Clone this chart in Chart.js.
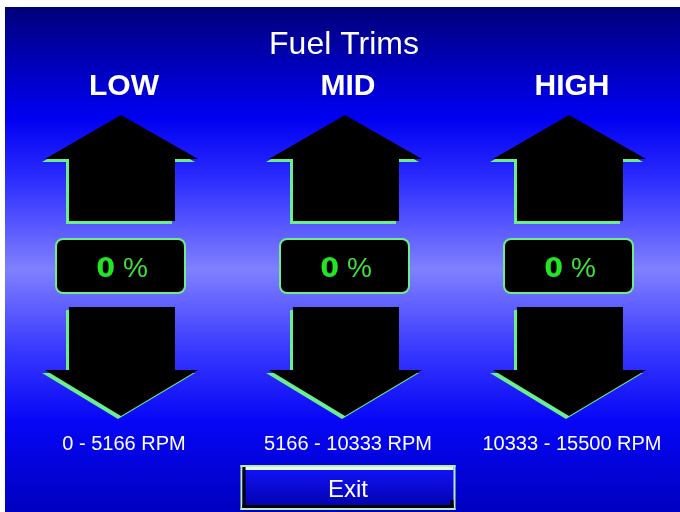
<!DOCTYPE html>
<html>
<head>
<meta charset="utf-8">
<script src="https://cdn.jsdelivr.net/npm/chart.js@4.4.0/dist/chart.umd.min.js"></script>
<style>
  html, body { margin: 0; padding: 0; background: #fff; }
</style>
</head>
<body>
<canvas id="trims" width="680" height="512"></canvas>
<script>
// values
var ranges = ['LOW', 'MID', 'HIGH'];
var trims = [0, 0, 0];
var rpmLabels = ['0 - 5166 RPM', '5166 - 10333 RPM', '10333 - 15500 RPM'];
var titleText = 'Fuel Trims';
var exitText = 'Exit';

var GREEN = '#6cee8c';

function upArrow(ctx, cx, cy, dx, dy) {
  ctx.beginPath();
  ctx.moveTo(cx + dx, cy - 151 + dy);
  ctx.lineTo(cx + 77 + dx, cy - 107 + dy);
  ctx.lineTo(cx + 54 + dx, cy - 107 + dy);
  ctx.lineTo(cx + 54 + dx, cy - 45 + dy);
  ctx.lineTo(cx - 52 + dx, cy - 45 + dy);
  ctx.lineTo(cx - 52 + dx, cy - 107 + dy);
  ctx.lineTo(cx - 76 + dx, cy - 107 + dy);
  ctx.closePath();
}

function downArrow(ctx, cx, cy, dx, dy) {
  ctx.beginPath();
  ctx.moveTo(cx - 52 + dx, cy + 41 + dy);
  ctx.lineTo(cx + 54 + dx, cy + 41 + dy);
  ctx.lineTo(cx + 54 + dx, cy + 104 + dy);
  ctx.lineTo(cx + 77 + dx, cy + 104 + dy);
  ctx.lineTo(cx + dx, cy + 150 + dy);
  ctx.lineTo(cx - 76 + dx, cy + 104 + dy);
  ctx.lineTo(cx - 52 + dx, cy + 104 + dy);
  ctx.closePath();
}

function roundBox(ctx, x, y, w, h, r) {
  ctx.beginPath();
  ctx.moveTo(x + r, y);
  ctx.lineTo(x + w - r, y);
  ctx.arcTo(x + w, y, x + w, y + r, r);
  ctx.lineTo(x + w, y + h - r);
  ctx.arcTo(x + w, y + h, x + w - r, y + h, r);
  ctx.lineTo(x + r, y + h);
  ctx.arcTo(x, y + h, x, y + h - r, r);
  ctx.lineTo(x, y + r);
  ctx.arcTo(x, y, x + r, y, r);
  ctx.closePath();
}

var fuelPanel = {
  id: 'fuelPanel',
  beforeDraw: function (chart) {
    var ctx = chart.ctx;
    ctx.save();
    ctx.fillStyle = '#fff';
    ctx.fillRect(0, 0, chart.width, chart.height);
    var g = ctx.createLinearGradient(0, 7, 0, chart.height);
    g.addColorStop(0, '#000078');
    g.addColorStop(0.11, '#0000b8');
    g.addColorStop(0.22, '#0000f2');
    g.addColorStop(0.34, '#2c2cff');
    g.addColorStop(0.52, '#8080ff');
    g.addColorStop(0.68, '#3838ff');
    g.addColorStop(0.82, '#0606f6');
    g.addColorStop(1, '#0000c0');
    ctx.fillStyle = g;
    ctx.fillRect(5, 7, chart.width - 5, chart.height - 7);
    ctx.restore();
  },
  afterDatasetsDraw: function (chart) {
    var ctx = chart.ctx;
    var x = chart.scales.x, y = chart.scales.y;
    var cy = y.getPixelForValue(0);
    ctx.save();
    for (var i = 0; i < ranges.length; i++) {
      var cx = x.getPixelForValue(i) + 1;
      // green shadow, then black arrow
      ctx.fillStyle = GREEN;
      upArrow(ctx, cx, cy, -3, 3); ctx.fill();
      downArrow(ctx, cx, cy, -3, 3); ctx.fill();
      ctx.fillStyle = '#000';
      upArrow(ctx, cx, cy, 0, 0); ctx.fill();
      downArrow(ctx, cx, cy, 0, 0); ctx.fill();

      // value box
      roundBox(ctx, cx - 65, cy - 27, 129, 54, 7);
      ctx.fillStyle = '#000';
      ctx.fill();
      ctx.lineWidth = 2;
      ctx.strokeStyle = GREEN;
      ctx.stroke();

      var num = String(trims[i]);
      ctx.font = 'bold 27px "DejaVu Sans"';
      var w1 = ctx.measureText(num).width;
      ctx.font = '28px "Liberation Sans"';
      var w2 = ctx.measureText('%').width;
      var gap = 8;
      var left = cx + 1 - (w1 + gap + w2) / 2;
      ctx.textBaseline = 'alphabetic';
      ctx.textAlign = 'left';
      ctx.fillStyle = '#22e622';
      ctx.font = 'bold 27px "DejaVu Sans"';
      ctx.fillText(num, left, cy + 11);
      ctx.fillStyle = '#3ee03e';
      ctx.font = '28px "Liberation Sans"';
      ctx.fillText('%', left + w1 + gap, cy + 11);
    }
    ctx.restore();
  },
  afterDraw: function (chart) {
    var ctx = chart.ctx;
    var bx = chart.scales.x.getPixelForValue(1) + 4;
    var w = 215, h = 45;
    var left = bx - w / 2, top = chart.height - 47;
    ctx.save();
    var g = ctx.createLinearGradient(0, top, 0, top + h);
    g.addColorStop(0, '#1414ff');
    g.addColorStop(1, '#0000a6');
    ctx.fillStyle = g;
    ctx.fillRect(left, top, w, h);
    // bevel
    ctx.fillStyle = '#b8ecbc';
    ctx.fillRect(left, top, w, 2);
    ctx.fillRect(left, top, 2, h);
    ctx.fillRect(left + w - 2, top, 2, h);
    ctx.fillRect(left, top + h - 2, w, 2);
    ctx.fillStyle = '#e4fbe4';
    ctx.fillRect(left + 2, top + 2, w - 4, 3);
    ctx.fillStyle = '#000';
    ctx.fillRect(left + 2, top + 2, 3, h - 4);
    ctx.fillRect(left + 2, top + h - 5, w - 4, 3);
    ctx.fillRect(left + w - 5, top + h - 10, 3, 8);
    ctx.fillStyle = '#fff';
    ctx.font = '24px "Liberation Sans"';
    ctx.textAlign = 'center';
    ctx.textBaseline = 'alphabetic';
    ctx.fillText(exitText, bx, top + 32);
    ctx.restore();
  }
};

new Chart(document.getElementById('trims'), {
  type: 'bar',
  data: {
    labels: ranges,
    datasets: [{
      label: 'Trim %',
      data: trims,
      backgroundColor: 'rgba(0,0,0,0)',
      xAxisID: 'x',
      yAxisID: 'y'
    }]
  },
  options: {
    responsive: false,
    animation: false,
    events: [],
    layout: { padding: { left: 8, right: 0, top: 0, bottom: 45.2 } },
    plugins: {
      legend: { display: false },
      tooltip: { enabled: false },
      title: {
        display: true,
        text: titleText,
        color: '#fff',
        font: { family: '"Liberation Sans"', size: 32, weight: 'normal' },
        padding: { top: 26, bottom: -1.4 }
      }
    },
    scales: {
      x: {
        position: 'top',
        offset: true,
        grid: { display: false, drawTicks: false },
        border: { display: false },
        ticks: {
          color: '#fff',
          font: { family: '"Liberation Sans"', size: 30, weight: 'bold' },
          padding: 5.5,
          labelOffset: 4,
          maxRotation: 0,
          autoSkip: false
        }
      },
      x2: {
        type: 'category',
        labels: rpmLabels,
        position: 'bottom',
        offset: true,
        bounds: 'ticks',
        grid: { display: false, drawTicks: false },
        border: { display: false },
        ticks: {
          color: '#fff',
          font: { family: '"Liberation Sans"', size: 20 },
          padding: 10.4,
          labelOffset: 4,
          maxRotation: 0,
          autoSkip: false
        }
      },
      y: { display: false, min: -1, max: 1 }
    }
  },
  plugins: [fuelPanel]
});
</script>
</body>
</html>
